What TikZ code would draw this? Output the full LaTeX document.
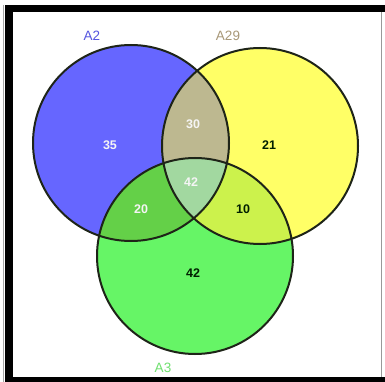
\documentclass[tikz,border=0pt]{standalone}
\usepackage{fontspec}
\setmainfont{Liberation Sans}
\definecolor{cblue}{HTML}{6666FF}
\definecolor{cyel}{HTML}{FFFF66}
\definecolor{cgreen}{HTML}{66F566}
\definecolor{cby}{HTML}{BDB890}
\definecolor{cbg}{HTML}{64D048}
\definecolor{cyg}{HTML}{CCF24C}
\definecolor{call}{HTML}{A2D8A0}
\definecolor{lblue}{HTML}{5555E0}
\definecolor{ltan}{HTML}{A89878}
\definecolor{lgreen}{HTML}{70E070}
\definecolor{edge}{HTML}{1E2418}
\tikzset{
  ring/.style={draw=edge, line width=2pt},
  lighttxt/.style={text=white!92!gray, font=\fontsize{12.5}{14}\selectfont\bfseries},
  darktxt/.style={text=black!80!green!60!black, font=\fontsize{12.5}{14}\selectfont\bfseries},
  setlabel/.style={font=\fontsize{13.5}{15}\selectfont}
}
\begin{document}
\begin{tikzpicture}[x=1pt,y=-1pt]
\useasboundingbox (0,0) rectangle (385,382);
\fill[white] (0,0) rectangle (385,382);
% frame
\fill[black] (5,5) rectangle (385,12);
\fill[black] (5,5) rectangle (13,382);
\fill[black] (5,377) rectangle (385,382);
\draw[gray!70, line width=0.8pt] (3.5,5) -- (3.5,382);
\draw[gray!80, line width=1pt] (381,12) -- (381,377);
% centers
\coordinate (cA) at (131,143);
\coordinate (cB) at (260,146);
\coordinate (cC) at (195,256);
\def\rr{98}
% base fills
\fill[cblue] (cA) circle (\rr);
\fill[cyel] (cB) circle (\rr);
\fill[cgreen] (cC) circle (\rr);
% pairwise
\begin{scope}\clip (cA) circle (\rr); \fill[cby] (cB) circle (\rr);\end{scope}
\begin{scope}\clip (cA) circle (\rr); \fill[cbg] (cC) circle (\rr);\end{scope}
\begin{scope}\clip (cB) circle (\rr); \fill[cyg] (cC) circle (\rr);\end{scope}
\begin{scope}\clip (cA) circle (\rr); \clip (cB) circle (\rr); \fill[call] (cC) circle (\rr);\end{scope}
% outlines
\draw[ring] (cA) circle (\rr);
\draw[ring] (cB) circle (\rr);
\draw[ring] (cC) circle (\rr);
% labels
\node[setlabel, text=lblue] (lA) at (92,36) {A2};
\node[setlabel, text=ltan] (lB) at (228,36) {A29};
\node[setlabel, text=lgreen] (lC) at (163,368) {A3};
% counts
\node[lighttxt] (n35) at (110,145) {35};
\node[lighttxt] (n30) at (193,124) {30};
\node[darktxt] (n21) at (269,145) {21};
\node[lighttxt] (n42c) at (191,182) {42};
\node[lighttxt] (n20) at (141,209) {20};
\node[darktxt] (n10) at (243,209) {10};
\node[darktxt] (n42) at (193,273) {42};
\end{tikzpicture}
\end{document}
